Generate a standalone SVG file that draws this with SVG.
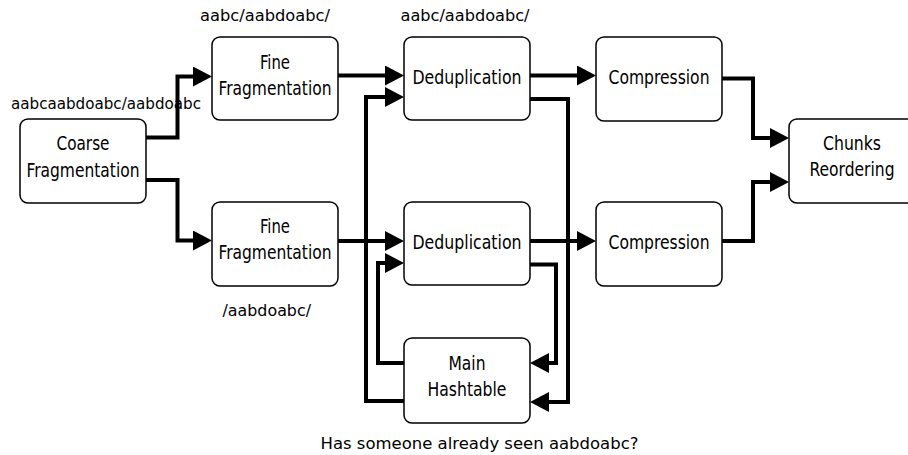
<svg xmlns="http://www.w3.org/2000/svg" width="908" height="455" viewBox="0 0 908 455">
  <style>
    .box { fill: #ffffff; stroke: #000000; stroke-width: 1.5; }
    .name { font-family: "DejaVu Sans Condensed", "DejaVu Sans", sans-serif; font-size: 20px; fill: #000000; text-anchor: middle; }
    .note { font-family: "DejaVu Sans", sans-serif; font-size: 15.5px; fill: #000000; }
    .link { fill: none; stroke: #000000; stroke-width: 4; stroke-linejoin: miter; }
  </style>
  <defs>
    <marker id="head" viewBox="0 0 19 20" refX="3" refY="10" markerWidth="19" markerHeight="20" markerUnits="userSpaceOnUse" orient="auto">
      <path d="M0,0 L19,10 L0,20 Z" fill="#000000"/>
    </marker>
  </defs>

  <rect width="908" height="455" fill="#ffffff"/>

  <!-- connectors -->
  <g id="connectors">
    <path class="link" marker-end="url(#head)" d="M146,137.5 H177.5 V76.5 H196"/>
    <path class="link" marker-end="url(#head)" d="M146,180 H177.5 V240.5 H196"/>
    <path class="link" marker-end="url(#head)" d="M338,75.5 H388"/>
    <path class="link" marker-end="url(#head)" d="M338,241 H388"/>
    <path class="link" marker-end="url(#head)" d="M530,75.5 H580"/>
    <path class="link" marker-end="url(#head)" d="M530,241 H580"/>
    <path class="link" marker-end="url(#head)" d="M530,99 H568 V402 H546"/>
    <path class="link" marker-end="url(#head)" d="M404,401 H366 V97 H388"/>
    <path class="link" marker-end="url(#head)" d="M530,264.5 H556 V363 H546"/>
    <path class="link" marker-end="url(#head)" d="M404,363 H378 V263 H388"/>
    <path class="link" marker-end="url(#head)" d="M722,78.5 H753 V138 H773"/>
    <path class="link" marker-end="url(#head)" d="M722,241 H753 V182 H773"/>
  </g>

  <!-- nodes -->
  <g id="coarse-fragmentation">
    <rect class="box" x="20" y="119" width="126" height="84" rx="8"/>
    <text class="name" x="83" y="150" textLength="53" lengthAdjust="spacingAndGlyphs">Coarse</text>
    <text class="name" x="83" y="176.5" textLength="113" lengthAdjust="spacingAndGlyphs">Fragmentation</text>
  </g>
  <g id="fine-fragmentation-1">
    <rect class="box" x="212" y="37" width="126" height="83" rx="8"/>
    <text class="name" x="275" y="68.5" textLength="30" lengthAdjust="spacingAndGlyphs">Fine</text>
    <text class="name" x="275" y="94.5" textLength="113" lengthAdjust="spacingAndGlyphs">Fragmentation</text>
  </g>
  <g id="fine-fragmentation-2">
    <rect class="box" x="212" y="202" width="126" height="84" rx="8"/>
    <text class="name" x="275" y="232.5" textLength="30" lengthAdjust="spacingAndGlyphs">Fine</text>
    <text class="name" x="275" y="258.5" textLength="113" lengthAdjust="spacingAndGlyphs">Fragmentation</text>
  </g>
  <g id="deduplication-1">
    <rect class="box" x="404" y="37" width="126" height="83" rx="8"/>
    <text class="name" x="467" y="84" textLength="109" lengthAdjust="spacingAndGlyphs">Deduplication</text>
  </g>
  <g id="deduplication-2">
    <rect class="box" x="404" y="202" width="126" height="83" rx="8"/>
    <text class="name" x="467" y="249" textLength="109" lengthAdjust="spacingAndGlyphs">Deduplication</text>
  </g>
  <g id="compression-1">
    <rect class="box" x="596" y="37" width="126" height="84" rx="8"/>
    <text class="name" x="659" y="84" textLength="101" lengthAdjust="spacingAndGlyphs">Compression</text>
  </g>
  <g id="compression-2">
    <rect class="box" x="596" y="202" width="126" height="84" rx="8"/>
    <text class="name" x="659" y="249" textLength="101" lengthAdjust="spacingAndGlyphs">Compression</text>
  </g>
  <g id="chunks-reordering">
    <rect class="box" x="789" y="119" width="126" height="84" rx="8"/>
    <text class="name" x="852" y="150" textLength="58" lengthAdjust="spacingAndGlyphs">Chunks</text>
    <text class="name" x="852" y="175.5" textLength="85" lengthAdjust="spacingAndGlyphs">Reordering</text>
  </g>
  <g id="main-hashtable">
    <rect class="box" x="404" y="338" width="126" height="85" rx="8"/>
    <text class="name" x="467" y="370" textLength="37" lengthAdjust="spacingAndGlyphs">Main</text>
    <text class="name" x="467" y="395.5" textLength="79" lengthAdjust="spacingAndGlyphs">Hashtable</text>
  </g>

  <!-- annotations -->
  <g id="annotations">
    <text class="note" x="11" y="109" textLength="190" lengthAdjust="spacingAndGlyphs">aabcaabdoabc/aabdoabc</text>
    <text class="note" x="200" y="21" textLength="130" lengthAdjust="spacingAndGlyphs">aabc/aabdoabc/</text>
    <text class="note" x="400.5" y="21" textLength="129" lengthAdjust="spacingAndGlyphs">aabc/aabdoabc/</text>
    <text class="note" x="222.5" y="316" textLength="88.5" lengthAdjust="spacingAndGlyphs">/aabdoabc/</text>
    <text class="note" x="320.5" y="449" textLength="318" lengthAdjust="spacingAndGlyphs">Has someone already seen aabdoabc?</text>
  </g>
</svg>
